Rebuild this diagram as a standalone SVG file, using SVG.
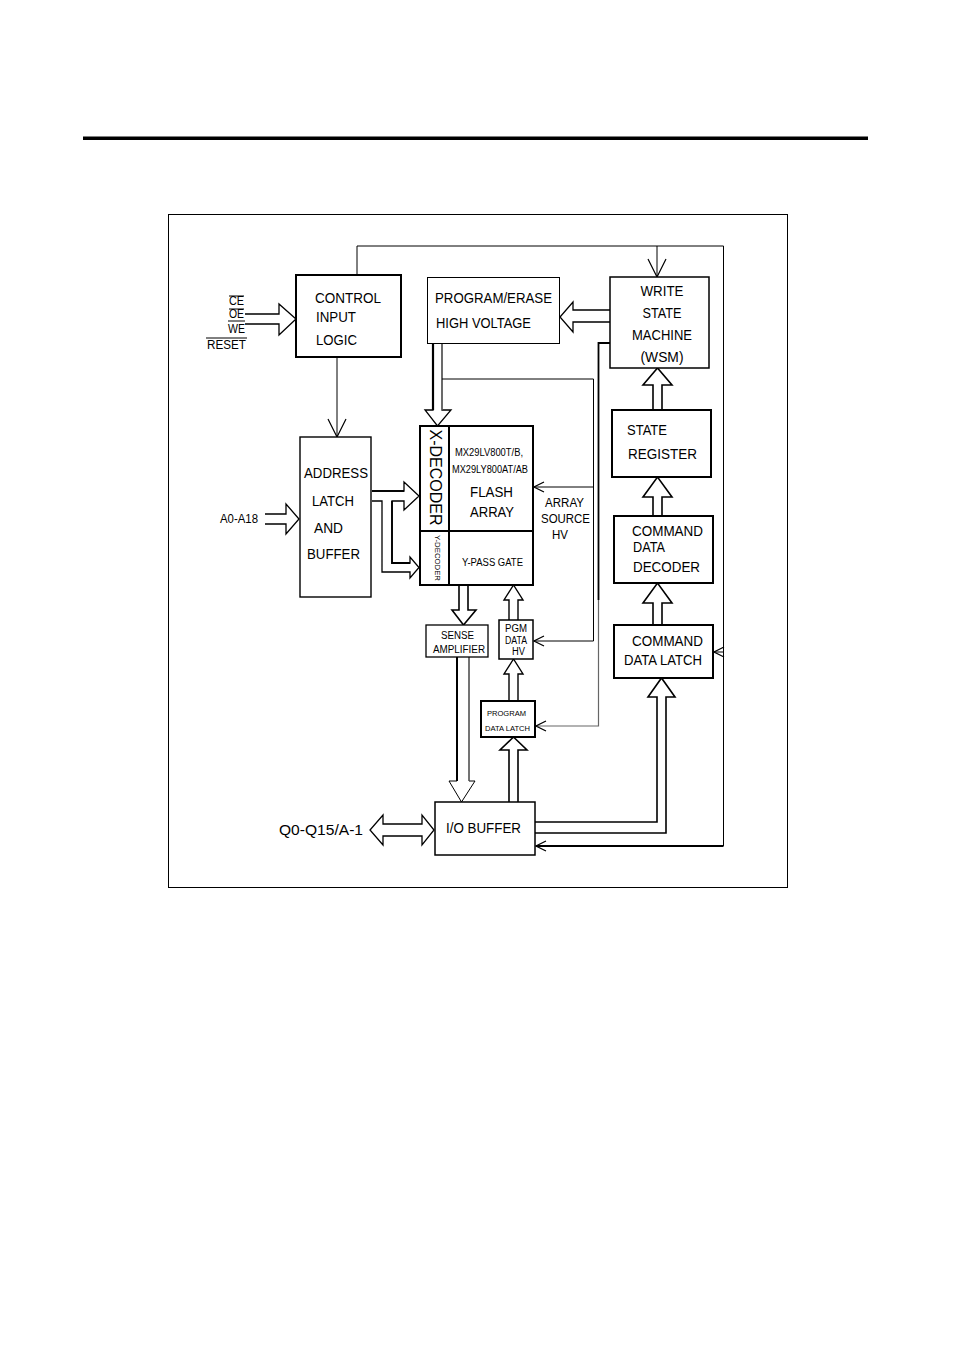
<svg xmlns="http://www.w3.org/2000/svg" width="954" height="1350" viewBox="0 0 954 1350">
<style>
text{font-family:"Liberation Sans",Arial,sans-serif;fill:#000;}
.t14{font-size:14px;}
.t12{font-size:12px;}
.t10{font-size:10px;}
.t8{font-size:8px;}
.box{fill:#fff;stroke:#000;stroke-width:2;}
.thin{fill:#fff;stroke:#000;stroke-width:1;}
.ln{fill:none;stroke:#000;stroke-width:1;}
.lnb{fill:none;stroke:#000;stroke-width:1.8;}
.gray{fill:none;stroke:#666;stroke-width:1;}
.hol{fill:#fff;stroke:#000;stroke-width:1.3;stroke-linejoin:miter;}
</style>
<defs>
<marker id="v" viewBox="0 0 12 12" refX="11" refY="6" markerWidth="12" markerHeight="12" markerUnits="userSpaceOnUse" orient="auto">
<path d="M1,1 L11,6 L1,11" fill="none" stroke="#000" stroke-width="1.2"/>
</marker>
<marker id="vl" viewBox="0 0 20 20" refX="19" refY="10" markerWidth="20" markerHeight="20" markerUnits="userSpaceOnUse" orient="auto">
<path d="M1,1 L19,10 L1,19" fill="none" stroke="#000" stroke-width="1.2"/>
</marker>
</defs>
<rect x="0" y="0" width="954" height="1350" fill="#fff"/>
<rect x="83" y="136.5" width="785" height="3.5" fill="#000"/>
<rect x="168.5" y="214.5" width="619" height="673" fill="none" stroke="#000" stroke-width="1"/>

<g id="connectors">
<!-- control top loop -->
<path class="ln" d="M357,275 V246 H723.5 V846"/>
<path class="lnb" d="M723.5,846 H536" marker-end="url(#v)"/>
<path class="ln" d="M657,246 V277" marker-end="url(#vl)"/>
<path class="ln" d="M723.5,652 H714" marker-end="url(#v)"/>
<!-- control to address -->
<path class="ln" d="M337,357 V437" marker-end="url(#vl)"/>
<!-- inputs -->
<path class="hol" d="M245,314 H279 V304 L296,319 L279,335 V324 H245"/>
<!-- A0-A18 -->
<path class="hol" d="M265,514 H286 V504 L299,519 L286,534 V524 H265"/>
<!-- address to x-decoder and y-decoder -->
<path class="hol" d="M372,491 H404 V482 L419,496 L404,510 V501 H392 V563 H410 V557 L419,567.5 L410,578 V572 H382 V501 H372" style="stroke-width:1.3"/>
<path class="lnb" d="M372,491 H404"/>
<path class="lnb" d="M392,501 V563 H410"/>
<!-- PE to X-decoder -->
<path class="hol" d="M433,344 V410 H425 L437.5,426 L451,410 H442 V344" style="stroke:#000"/>
<path d="M433,344 V410" stroke="#000" stroke-width="2.2"/>
<path d="M442,344 V410" stroke="#777" stroke-width="1.2"/>
<!-- HV line from PE -->
<path class="ln" d="M442,379 H593.5 V641 H534" marker-end="url(#v)"/>
<path class="ln" d="M593.5,487 H534" marker-end="url(#v)"/>
<!-- WSM line to program data latch -->
<path d="M610,343 H598.5 V600" fill="none" stroke="#000" stroke-width="1.8"/>
<path d="M598.5,600 V726 H536" fill="none" stroke="#666" stroke-width="1.2" marker-end="url(#v)"/>
<!-- WSM to PE -->
<path class="hol" d="M610,310 H573 V302 L560,317 L573,332 V322 H610"/>
<!-- State reg to WSM -->
<path class="hol" d="M653,410 V385 H643 L657.5,368 L672,385 H662 V410" style="stroke-width:1.6"/>
<!-- Decoder to state reg -->
<path class="hol" d="M653,516 V497 H643 L657.5,477 L672,497 H662 V516" style="stroke-width:1.6"/>
<!-- Latch to decoder -->
<path class="hol" d="M653,625 V603 H643 L657.5,583 L672,603 H662 V625" style="stroke-width:1.6"/>
<!-- I/O to cmd latch -->
<path class="hol" d="M535,822 H657 V697 H648 L661.5,678 L675,697 H666 V833 H535" style="fill:none;stroke-width:1.6"/>
<!-- Y-pass to sense amp -->
<path class="hol" d="M459,585 V610 H452 L463.5,625 L476,610 H468 V585" style="stroke-width:1.6"/>
<!-- sense amp to I/O -->
<path class="hol" d="M457,657 V781 H449 L461.5,802 L475,781 H469 V657" style="stroke-width:1"/>
<path d="M457,657 V781" stroke="#000" stroke-width="2"/>
<path d="M469,657 V781" stroke="#666" stroke-width="1"/>
<!-- I/O to program data latch -->
<path class="hol" d="M509,802 V750 H500 L513.5,737 L527,750 H518 V802" style="stroke-width:1.6"/>
<!-- program data latch to PGM data HV -->
<path class="hol" d="M509,701 V674 H504 L513.5,659 L523,674 H518 V701" style="stroke-width:1.4"/>
<!-- PGM data HV to Y-pass -->
<path class="hol" d="M509,620 V600 H504 L513.5,585 L523,600 H518 V620" style="stroke-width:1.4"/>
<!-- Q0-Q15 bidirectional -->
<path class="hol" d="M383,824 H422 V815 L434,830 L422,845 V836 H383 V845 L370,830 L383,815 Z"/>
</g>

<g id="inputs">
<text class="t12" x="229" y="305" textLength="15" lengthAdjust="spacingAndGlyphs">CE</text>
<text class="t12" x="229" y="318" textLength="15" lengthAdjust="spacingAndGlyphs">OE</text>
<text class="t12" x="228" y="333" textLength="17" lengthAdjust="spacingAndGlyphs">WE</text>
<text class="t12" x="207" y="349" textLength="39" lengthAdjust="spacingAndGlyphs">RESET</text>
<path class="ln" d="M229,296 H244 M229,309 H244 M228,321 H245 M206,338 H247"/>
</g>

<g id="control">
<rect class="box" x="296" y="275" width="105" height="82"/>
<text class="t14" x="315" y="303" textLength="66" lengthAdjust="spacingAndGlyphs">CONTROL</text>
<text class="t14" x="316" y="322" textLength="40" lengthAdjust="spacingAndGlyphs">INPUT</text>
<text class="t14" x="316" y="345" textLength="41" lengthAdjust="spacingAndGlyphs">LOGIC</text>
</g>

<g id="pe">
<rect class="thin" x="427.5" y="277.5" width="132" height="66"/>
<text class="t14" x="435" y="303" textLength="117" lengthAdjust="spacingAndGlyphs">PROGRAM/ERASE</text>
<text class="t14" x="436" y="328" textLength="95" lengthAdjust="spacingAndGlyphs">HIGH VOLTAGE</text>
</g>

<g id="wsm">
<rect class="box" x="610" y="277" width="99" height="91" style="stroke-width:1.5"/>
<g class="t14" text-anchor="middle">
<text x="662" y="296" textLength="43" lengthAdjust="spacingAndGlyphs">WRITE</text>
<text x="662" y="318" textLength="39" lengthAdjust="spacingAndGlyphs">STATE</text>
<text x="662" y="340" textLength="60" lengthAdjust="spacingAndGlyphs">MACHINE</text>
<text x="662" y="362" textLength="43" lengthAdjust="spacingAndGlyphs">(WSM)</text>
</g>
</g>

<g id="address">
<rect class="box" x="300" y="437" width="71" height="160" style="stroke-width:1.4"/>
<text class="t14" x="304" y="478" textLength="64" lengthAdjust="spacingAndGlyphs">ADDRESS</text>
<text class="t14" x="312" y="506" textLength="42" lengthAdjust="spacingAndGlyphs">LATCH</text>
<text class="t14" x="314" y="533" textLength="29" lengthAdjust="spacingAndGlyphs">AND</text>
<text class="t14" x="307" y="559" textLength="53" lengthAdjust="spacingAndGlyphs">BUFFER</text>
</g>

<g id="a0a18">
<text class="t12" x="220" y="523" textLength="38" lengthAdjust="spacingAndGlyphs">A0-A18</text>
</g>

<g id="flash">
<rect class="box" x="420" y="426" width="113" height="159"/>
<path d="M449,426 V585 M420,531 H533" stroke="#000" stroke-width="2"/>
<text transform="translate(436,477.5) rotate(90)" style="font-size:16px" y="6" text-anchor="middle" textLength="96" lengthAdjust="spacingAndGlyphs">X-DECODER</text>
<text transform="translate(437,558) rotate(90)" style="font-size:7px" y="2.5" text-anchor="middle" textLength="46" lengthAdjust="spacingAndGlyphs">Y-DECODER</text>
<text class="t10" x="455" y="456" textLength="68" lengthAdjust="spacingAndGlyphs">MX29LV800T/B,</text>
<text class="t10" x="452" y="473" textLength="76" lengthAdjust="spacingAndGlyphs">MX29LY800AT/AB</text>
<text class="t14" x="470" y="497" textLength="43" lengthAdjust="spacingAndGlyphs">FLASH</text>
<text class="t14" x="470" y="517" textLength="44" lengthAdjust="spacingAndGlyphs">ARRAY</text>
<text class="t10" x="462" y="566" textLength="61" lengthAdjust="spacingAndGlyphs">Y-PASS GATE</text>
</g>

<g id="arraysource">
<text class="t12" x="545" y="507" textLength="39" lengthAdjust="spacingAndGlyphs">ARRAY</text>
<text class="t12" x="541" y="523" textLength="49" lengthAdjust="spacingAndGlyphs">SOURCE</text>
<text class="t12" x="552" y="539" textLength="16" lengthAdjust="spacingAndGlyphs">HV</text>
</g>

<g id="statereg">
<rect class="box" x="612" y="410" width="99" height="67"/>
<text class="t14" x="627" y="435" textLength="40" lengthAdjust="spacingAndGlyphs">STATE</text>
<text class="t14" x="628" y="459" textLength="69" lengthAdjust="spacingAndGlyphs">REGISTER</text>
</g>

<g id="decoder">
<rect class="box" x="614" y="516" width="99" height="67"/>
<text class="t14" x="632" y="536" textLength="71" lengthAdjust="spacingAndGlyphs">COMMAND</text>
<text class="t14" x="633" y="552" textLength="32" lengthAdjust="spacingAndGlyphs">DATA</text>
<text class="t14" x="633" y="572" textLength="67" lengthAdjust="spacingAndGlyphs">DECODER</text>
</g>

<g id="cmdlatch">
<rect class="box" x="614" y="625" width="99" height="53"/>
<text class="t14" x="632" y="646" textLength="71" lengthAdjust="spacingAndGlyphs">COMMAND</text>
<text class="t14" x="624" y="665" textLength="78" lengthAdjust="spacingAndGlyphs">DATA LATCH</text>
</g>

<g id="senseamp">
<rect class="box" x="426" y="625" width="62" height="32" style="stroke-width:1.3"/>
<text class="t10" x="441" y="639" textLength="33" lengthAdjust="spacingAndGlyphs">SENSE</text>
<text class="t10" x="433" y="653" textLength="52" lengthAdjust="spacingAndGlyphs">AMPLIFIER</text>
</g>

<g id="pgmhv">
<rect class="box" x="499" y="620" width="34" height="39" style="stroke-width:1.5"/>
<text class="t10" x="505" y="632" textLength="22" lengthAdjust="spacingAndGlyphs">PGM</text>
<text class="t10" x="505" y="644" textLength="22" lengthAdjust="spacingAndGlyphs">DATA</text>
<text class="t10" x="512" y="655" textLength="13" lengthAdjust="spacingAndGlyphs">HV</text>
</g>

<g id="pdlatch">
<rect class="box" x="481" y="701" width="54" height="36"/>
<text class="t8" x="487" y="716" textLength="39" lengthAdjust="spacingAndGlyphs">PROGRAM</text>
<text class="t8" x="485" y="731" textLength="45" lengthAdjust="spacingAndGlyphs">DATA LATCH</text>
</g>

<g id="iobuffer">
<rect class="box" x="435" y="802" width="100" height="53" style="stroke-width:1.5"/>
<text style="font-size:15px" x="446" y="833" textLength="75" lengthAdjust="spacingAndGlyphs">I/O BUFFER</text>
</g>

<g id="q0">
<text style="font-size:15px" x="279" y="835" textLength="84" lengthAdjust="spacingAndGlyphs">Q0-Q15/A-1</text>
</g>
</svg>
